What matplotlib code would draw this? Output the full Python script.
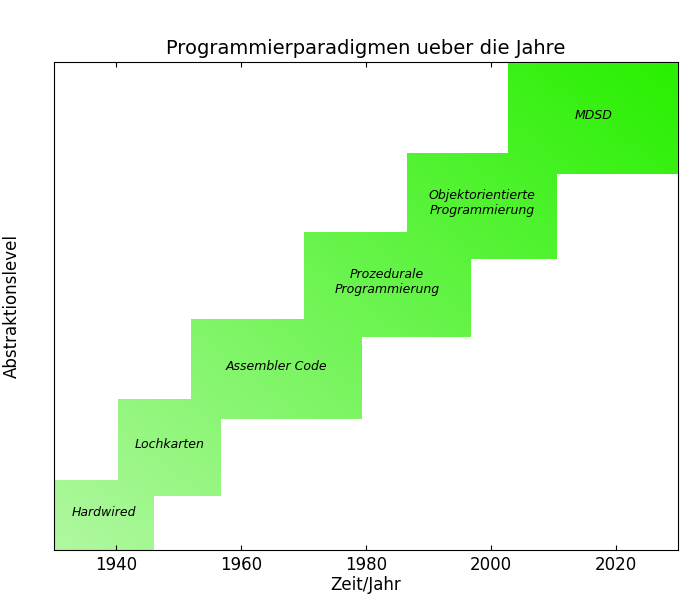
import numpy as np
import matplotlib
matplotlib.use("Agg")
import matplotlib.pyplot as plt
from matplotlib.colors import LinearSegmentedColormap

# Paradigm boxes: label, start year, end year, bottom level, top level
labels = ["Hardwired", "Lochkarten", "Assembler Code",
          "Prozedurale\nProgrammierung", "Objektorientierte\nProgrammierung", "MDSD"]
x_start = [1930.0, 1940.2, 1952.0, 1970.0, 1986.6, 2002.8]
x_end = [1946.0, 1956.7, 1979.4, 1996.7, 2010.6, 2030.0]
y_bottom = [0, 54, 131, 213, 291, 376]
y_top = [70, 151, 231, 318, 397, 487]

XMIN, XMAX, YMAX = 1930, 2030, 488

cmap = LinearSegmentedColormap.from_list("grn", ["#b0f8a0", "#28f000"])

fig = plt.figure(figsize=(6.88, 5.99), dpi=100)
ax = fig.add_axes((54 / 688, 49 / 599, 624 / 688, 488 / 599))

for i, lab in enumerate(labels):
    x0, x1, y0, y1 = x_start[i], x_end[i], y_bottom[i], y_top[i]
    xs = np.linspace(x0, x1, 60)
    ys = np.linspace(y0, y1, 60)
    gx, gy = np.meshgrid(xs, ys)
    val = 0.5 * (gx - XMIN) / (XMAX - XMIN) + 0.5 * gy / YMAX
    ax.imshow(val, cmap=cmap, vmin=0, vmax=1, origin="lower",
              extent=(x0, x1, y0, y1), aspect="auto", zorder=i + 1,
              interpolation="bilinear")
    ax.text((x0 + x1) / 2, (y0 + y1) / 2 + 3, lab, ha="center", va="center",
            style="italic", fontsize=9, zorder=i + 1.5)

ax.set_xlim(XMIN, XMAX)
ax.set_ylim(0, YMAX)
ax.set_xticks([1940, 1960, 1980, 2000, 2020])
ax.set_yticks([])
ax.tick_params(axis="x", direction="in", top=True, labelsize=12, pad=4)
ax.set_title("Programmierparadigmen ueber die Jahre", fontsize=14)
ax.set_xlabel("Zeit/Jahr", fontsize=12, labelpad=2)
ax.set_ylabel("Abstraktionslevel", fontsize=12, labelpad=24)

fig.savefig("out.png", dpi=100)
